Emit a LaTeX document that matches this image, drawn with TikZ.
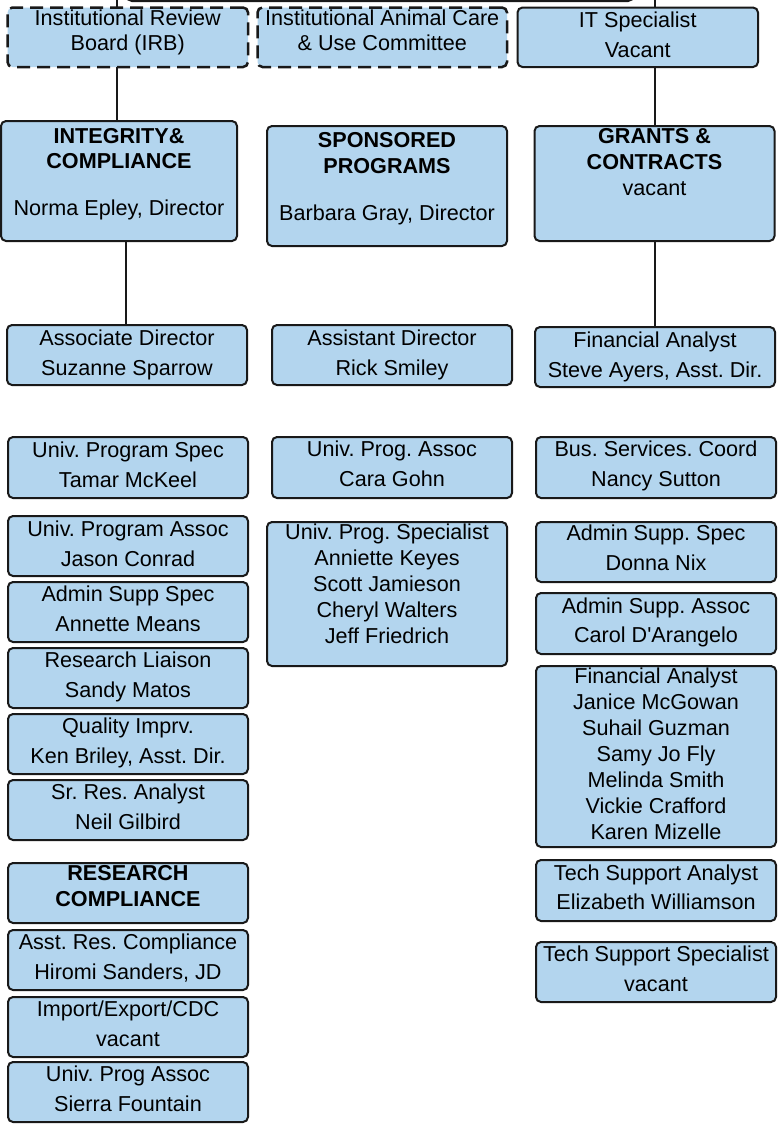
\documentclass[tikz,border=0pt]{standalone}
\usepackage{fontspec}
\setmainfont{Liberation Sans}
\frenchspacing
\definecolor{boxblue}{RGB}{179,213,238}
\definecolor{edge}{RGB}{25,25,25}
\tikzset{
  box/.style={draw=edge, line width=2pt, fill=boxblue, rounded corners=5pt, inner sep=0pt, outer sep=0pt},
  dbox/.style={box, line width=2.5pt, dash pattern=on 13pt off 7pt},
  txt/.style={anchor=base, inner sep=0pt, font=\fontsize{21.6}{25}\selectfont},
  btxt/.style={txt, font=\fontsize{21.6}{25}\selectfont\bfseries},
  conn/.style={line width=2pt, draw=edge},
}
\newcommand\orgbox[6][]{%
  \pgfmathsetmacro\bw{#4-#2}\pgfmathsetmacro\bh{#5-#3}%
  \pgfmathsetmacro\bcx{(#2+#4)/2}\pgfmathsetmacro\bcy{(#3+#5)/2}%
  \node[box,#1,minimum width=\bw pt,minimum height=\bh pt] (#6) at (\bcx,\bcy) {};}
\newcommand\tx[5][txt]{\node[#1] (#2) at (#3.center |- 0,#4) {#5};}
\begin{document}
\begin{tikzpicture}[x=1pt,y=-1pt]
\useasboundingbox (0,0) rectangle (779,1128);
\clip (0,0) rectangle (779,1128);
\fill[white] (0,0) rectangle (779,1128);

% top (director) box, cut by the top edge
\orgbox[line width=3pt]{127}{-60}{633}{0.5}{dir}

% row 1
\orgbox[dbox]{7.5}{7.5}{248}{67}{irb}
\orgbox[dbox]{257.5}{7.5}{507}{67}{iacuc}
\orgbox{517.5}{7.5}{758}{67}{it}
% row 2
\orgbox{1}{121}{237}{241}{integ}
\orgbox{267}{126}{507}{246}{spons}
\orgbox{534.5}{126}{774.5}{241}{grants}
% row 3
\orgbox{7}{325}{247}{385}{assoc}
\orgbox{272}{325}{512}{385}{asst}
\orgbox{535}{327}{775}{387}{finan}
% left column
\orgbox{8}{437}{248}{498}{tamar}
\orgbox{8}{516}{248}{576}{jason}
\orgbox{8}{582}{248}{642}{annette}
\orgbox{8}{648}{248}{708}{sandy}
\orgbox{8}{714}{248}{774}{ken}
\orgbox{8}{780}{248}{840}{neil}
\orgbox{8}{863}{248}{923}{rescomp}
\orgbox{8}{930}{248}{990}{hiromi}
\orgbox{8}{997}{248}{1057}{impexp}
\orgbox{8}{1062}{248}{1122}{sierra}
% middle column
\orgbox{272}{437}{512}{498}{cara}
\orgbox{267}{522}{507}{666}{ups}
% right column
\orgbox{536}{437}{776}{498}{nancy}
\orgbox{536}{522}{776}{582}{donna}
\orgbox{536}{593}{776}{654}{carol}
\orgbox{536}{666}{776}{847}{finlist}
\orgbox{536}{860}{776}{921}{eliz}
\orgbox{536}{942}{776}{1002}{tss}

% connectors
\coordinate (topL) at (117,-10);
\coordinate (topR) at (655,-10);
\coordinate (colL) at (126,0);
\draw[conn] (topL) -- (topL |- irb.north);
\draw[conn] (irb.south -| topL) -- (integ.north -| topL);
\draw[conn] (topR) -- (topR |- it.north);
\draw[conn] (it.south -| topR) -- (grants.north -| topR);
\draw[conn] (integ.south -| colL) -- (assoc.north -| colL);
\draw[conn] (grants.south -| topR) -- (finan.north -| topR);

% texts
\tx{irb1}{irb}{25.5}{Institutional Review}
\tx{irb2}{irb}{50.5}{Board (IRB)}
\tx{iacuc1}{iacuc}{25.5}{Institutional Animal Care}
\tx{iacuc2}{iacuc}{50.5}{\& Use Committee}
\tx{it1}{it}{27}{IT Specialist}
\tx{it2}{it}{57}{Vacant}

\tx[btxt]{integ1}{integ}{143}{INTEGRITY\&}
\tx[btxt]{integ2}{integ}{168.5}{COMPLIANCE}
\tx{integ3}{integ}{215}{Norma Epley, Director}
\tx[btxt]{spons1}{spons}{147.5}{SPONSORED}
\tx[btxt]{spons2}{spons}{173.5}{PROGRAMS}
\tx{spons3}{spons}{220}{Barbara Gray, Director}
\tx[btxt]{grants1}{grants}{143.5}{GRANTS \&}
\tx[btxt]{grants2}{grants}{169.5}{CONTRACTS}
\tx{grants3}{grants}{195}{vacant}

\tx{assoc1}{assoc}{345}{Associate Director}
\tx{assoc2}{assoc}{375}{Suzanne Sparrow}
\tx{asst1}{asst}{345}{Assistant Director}
\tx{asst2}{asst}{375}{Rick Smiley}
\tx{finan1}{finan}{347}{Financial Analyst}
\tx{finan2}{finan}{377}{Steve Ayers, Asst. Dir.}

\tx{tamar1}{tamar}{457}{Univ. Program Spec}
\tx{tamar2}{tamar}{487}{Tamar McKeel}
\tx{jason1}{jason}{536}{Univ. Program Assoc}
\tx{jason2}{jason}{566}{Jason Conrad}
\tx{annette1}{annette}{601.5}{Admin Supp Spec}
\tx{annette2}{annette}{631}{Annette Means}
\tx{sandy1}{sandy}{667.5}{Research Liaison}
\tx{sandy2}{sandy}{697}{Sandy Matos}
\tx{ken1}{ken}{733.5}{Quality Imprv.}
\tx{ken2}{ken}{763}{Ken Briley, Asst. Dir.}
\tx{neil1}{neil}{799.5}{Sr. Res. Analyst}
\tx{neil2}{neil}{829}{Neil Gilbird}
\tx[btxt]{rescomp1}{rescomp}{880}{RESEARCH}
\tx[btxt]{rescomp2}{rescomp}{906}{COMPLIANCE}
\tx{hiromi1}{hiromi}{949.5}{Asst. Res. Compliance}
\tx{hiromi2}{hiromi}{979.5}{Hiromi Sanders, JD}
\tx{impexp1}{impexp}{1016.5}{Import/Export/CDC}
\tx{impexp2}{impexp}{1046.5}{vacant}
\tx{sierra1}{sierra}{1081.5}{Univ. Prog Assoc}
\tx{sierra2}{sierra}{1111}{Sierra Fountain}

\tx{cara1}{cara}{456.7}{Univ. Prog. Assoc}
\tx{cara2}{cara}{486.7}{Cara Gohn}
\tx{ups1}{ups}{539}{Univ. Prog. Specialist}
\tx{ups2}{ups}{565}{Anniette Keyes}
\tx{ups3}{ups}{591}{Scott Jamieson}
\tx{ups4}{ups}{617}{Cheryl Walters}
\tx{ups5}{ups}{643}{Jeff Friedrich}

\tx{nancy1}{nancy}{456.7}{Bus. Services. Coord}
\tx{nancy2}{nancy}{486.7}{Nancy Sutton}
\tx{donna1}{donna}{540.5}{Admin Supp. Spec}
\tx{donna2}{donna}{570.5}{Donna Nix}
\tx{carol1}{carol}{613}{Admin Supp. Assoc}
\tx{carol2}{carol}{642.5}{Carol D\textquotesingle Arangelo}
\tx{fl1}{finlist}{683}{Financial Analyst}
\tx{fl2}{finlist}{709}{Janice McGowan}
\tx{fl3}{finlist}{735}{Suhail Guzman}
\tx{fl4}{finlist}{761}{Samy Jo Fly}
\tx{fl5}{finlist}{787}{Melinda Smith}
\tx{fl6}{finlist}{813}{Vickie Crafford}
\tx{fl7}{finlist}{839}{Karen Mizelle}
\tx{eliz1}{eliz}{880}{Tech Support Analyst}
\tx{eliz2}{eliz}{909.5}{Elizabeth Williamson}
\tx{tss1}{tss}{961.7}{Tech Support Specialist}
\tx{tss2}{tss}{991.7}{vacant}
\end{tikzpicture}
\end{document}
